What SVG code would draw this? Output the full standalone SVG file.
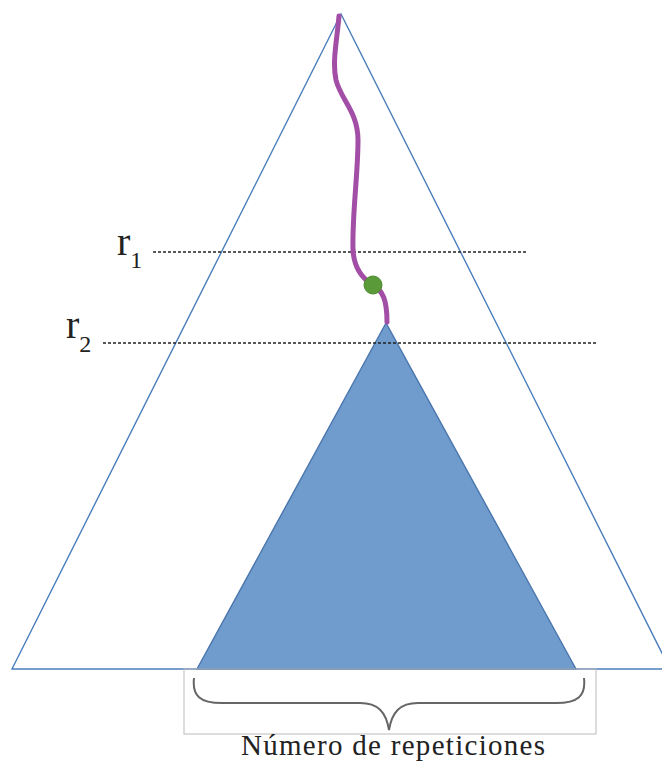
<svg xmlns="http://www.w3.org/2000/svg" width="662" height="763" viewBox="0 0 662 763">
<style>
.outline{fill:none;stroke:#4a7ebb;stroke-width:1.4}
.dots{fill:none;stroke:#222;stroke-width:1.3;stroke-dasharray:3 2}
.lbl{font-family:"Liberation Serif",serif;fill:#222}
</style>
<rect width="662" height="763" fill="#fff"/>
<g id="outer-triangle">
<polygon class="outline" points="341,14 12,669 670,669"/>
</g>
<g id="inner-triangle">
<polygon points="386,323 197,669 576,669" fill="#6f9bcd" stroke="#4a76ad" stroke-width="1.4"/>
</g>
<g id="connectors">
<line class="dots" x1="153" y1="252" x2="528" y2="252"/>
<line class="dots" x1="103" y1="343" x2="596" y2="343"/>
<path d="M339,16 C337,40 332,62 336,80 C341,100 358,112 358,140 C358,175 352,215 353,250 C354,268 363,279 373,285 C383,291 387,300 387,322" fill="none" stroke="#a24ea6" stroke-width="5" stroke-linecap="round"/>
</g>
<g id="node-dot">
<circle cx="373" cy="285" r="9" fill="#5a9a38" stroke="#4e8a30" stroke-width="1"/>
</g>
<g id="label-r1">
<text class="lbl" x="117" y="255" font-size="40">r<tspan font-size="24" dy="13">1</tspan></text>
</g>
<g id="label-r2">
<text class="lbl" x="66" y="338" font-size="40">r<tspan font-size="24" dy="14">2</tspan></text>
</g>
<g id="brace-box">
<rect x="184" y="669" width="412" height="65" fill="none" stroke="#bbb" stroke-width="1"/>
<path d="M194,678 C192,696 200,703 222,703 L360,703 C378,703 386,712 389,730 C392,712 400,703 418,703 L556,703 C578,703 586,696 584,678" fill="none" stroke="#666" stroke-width="2"/>
</g>
<g id="title">
<text class="lbl" x="393" y="755" font-size="29" text-anchor="middle" textLength="304">Número de repeticiones</text>
</g>
</svg>
